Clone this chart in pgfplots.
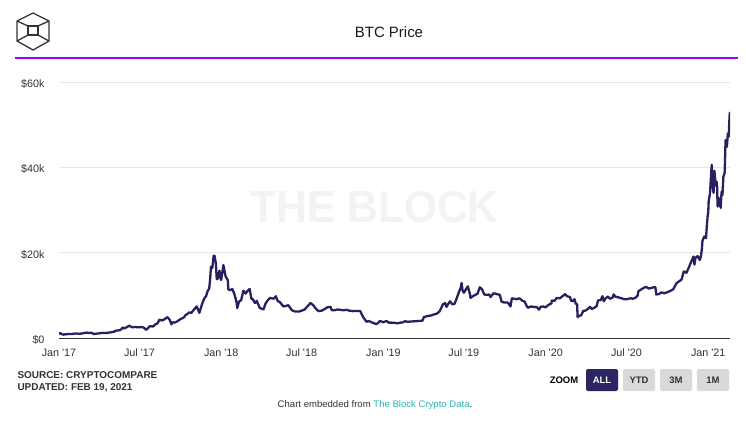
\documentclass[border=0pt]{standalone}
\usepackage{fontspec}
\setmainfont{Liberation Sans}
\usepackage{pgfplots}
\usepackage{pgfplotstable}
\pgfplotsset{compat=1.18}
\definecolor{btcline}{RGB}{40,33,96}
\definecolor{purp}{RGB}{160,0,255}
\definecolor{txt}{RGB}{51,51,51}
\definecolor{gridc}{RGB}{230,230,230}
\definecolor{wm}{RGB}{243,243,243}
\definecolor{teal2}{RGB}{42,180,184}
\definecolor{navy}{RGB}{43,37,98}
\definecolor{btn}{RGB}{217,217,217}

\pgfplotstableread{
day price
0 998
3 1130
5 990
7 900
10 780
12 830
17 900
21 920
28 920
31 970
38 1060
45 1000
52 1050
58 1190
62 1280
66 1180
73 1230
78 940
84 1020
90 1080
97 1200
104 1180
111 1250
118 1350
123 1460
128 1720
133 1780
137 1850
140 2050
143 2450
145 2250
147 2300
152 2480
158 2900
162 2650
165 2500
171 2600
177 2500
181 2500
186 2600
192 2350
196 1930
200 2260
204 2750
208 2730
212 2720
217 3200
222 3450
226 4300
231 4100
237 4350
240 4600
244 4900
249 4300
253 3230
256 3700
260 3600
266 3900
273 4400
281 4800
285 5400
290 5700
293 6000
298 5900
304 6700
310 7400
314 6400
316 5900
322 8000
327 9300
331 9800
334 10900
338 11600
340 13700
342 16700
345 16400
348 19300
350 19300
353 17500
355 13800
358 14000
361 15800
364 13900
365 13600
370 17100
375 14400
380 13500
381 11400
385 11200
390 11500
395 10200
400 8200
401 7000
405 8500
410 8900
415 11100
420 10400
424 11000
429 11500
433 9200
436 9100
441 8200
445 8700
452 7000
455 6900
460 6700
465 8100
470 8900
475 9400
483 9200
488 9800
492 8700
497 8400
505 7400
510 7500
516 7700
524 6500
532 6200
540 6200
546 6400
553 6700
558 7300
566 8200
572 7700
577 7000
584 6300
591 6400
598 6800
604 7200
611 7300
614 6500
620 6500
627 6700
633 6600
640 6500
647 6600
654 6400
661 6300
669 6350
678 6300
681 5600
685 4800
688 4400
692 3800
697 4000
703 3700
710 3400
714 3250
718 3500
722 4000
725 3900
729 3700
730 3700
737 4000
742 3600
748 3600
755 3550
762 3450
768 3600
773 3650
779 3950
784 3800
790 3850
797 3900
804 3950
811 4000
818 4050
821 4900
826 5050
832 5200
838 5300
843 5500
850 5700
856 6200
860 7000
864 7900
869 8200
872 7300
876 8000
880 8600
885 7900
890 8000
895 9300
900 10800
904 11800
906 12900
908 11200
911 10600
915 11300
920 12100
925 10200
926 9400
933 9900
942 10400
947 11900
952 11400
957 10200
962 10100
968 10200
971 9600
978 10500
985 10300
992 10100
996 8500
1003 8300
1010 8300
1016 7400
1019 9300
1025 9200
1030 9100
1036 9300
1042 8800
1048 8500
1052 7600
1055 7100
1062 7400
1068 7300
1076 7200
1080 6650
1084 7300
1090 7400
1094 7200
1095 7200
1102 7800
1108 8100
1109 8800
1115 8700
1120 9400
1127 9300
1133 9800
1139 10300
1143 9800
1150 9600
1152 8800
1156 8600
1160 9100
1163 8000
1166 7900
1167 4900
1170 5200
1175 5300
1180 6400
1184 6400
1190 6800
1195 7300
1199 6800
1205 7100
1210 7500
1213 8800
1219 8900
1223 9800
1226 8600
1230 9300
1235 9700
1240 9200
1246 9500
1248 10200
1252 9700
1260 9500
1266 9300
1272 9100
1278 9100
1286 9300
1292 9200
1298 9500
1302 9900
1304 11000
1309 11300
1315 11700
1321 12000
1324 11800
1327 11600
1332 11700
1338 11900
1342 11900
1344 10200
1350 10300
1356 10700
1362 10500
1368 10700
1375 11000
1382 11400
1390 12900
1393 13100
1401 13700
1406 15600
1412 15300
1418 16700
1422 17700
1425 18400
1428 19100
1430 17200
1432 18700
1437 19200
1442 18300
1445 19400
1447 21300
1448 22800
1452 23800
1456 23400
1458 26500
1460 29000
1461 29400
1462 32100
1465 33900
1468 39400
1469 40600
1471 35600
1473 34000
1475 39200
1477 36800
1478 35700
1480 36600
1481 35500
1482 30800
1484 32900
1486 32100
1489 30500
1491 34300
1493 33500
1495 37700
1498 38800
1500 46400
1503 44800
1505 47900
1507 47200
1509 52100
1510 53000
}\btcdata

\begin{document}
\begin{tikzpicture}[x=1bp,y=1bp]
\path[use as bounding box, fill=white] (0,0) rectangle (746,431);
\coordinate (axpos) at (59,93);
% logo
\draw[txt, line width=1.3bp, line join=round] (33,418)--(49,410)--(49,390)--(33,381)--(17,390)--(17,410)--cycle;
\draw[txt, line width=1.3bp] (28,396) rectangle (38,405);
\draw[txt, line width=1.3bp] (17,410)--(28,405) (49,410)--(38,405) (17,390)--(28,396) (49,390)--(38,396);
\node[font=\fontsize{15}{18}\selectfont, text=black!90] at (389,399) {BTC Price};
\draw[purp, line width=1.3bp] (15,373)--(738,373);
\node[font=\fontsize{45}{54}\selectfont\bfseries, text=wm, xscale=0.95] at (374.5,224) {THE BLOCK};
\begin{axis}[at={(axpos)}, anchor=south west, scale only axis,
  width=671bp, height=256bp,
  xmin=0, xmax=1510, ymin=0, ymax=60000,
  scaled y ticks=false, scaled x ticks=false,
  axis x line*=bottom, axis y line*=left,
  y axis line style={draw=none},
  x axis line style={draw=txt, line width=1bp, -},
  major tick length=0pt,
  ytick={0,20000,40000,60000},
  yticklabels={\$0,\$20k,\$40k,\$60k},
  ymajorgrids, grid style={gridc, line width=0.8bp},
  xtick={0,181,365,546,730,911,1095,1277,1461},
  xticklabels={Jan \textquotesingle17,Jul \textquotesingle17,Jan \textquotesingle18,Jul \textquotesingle18,Jan \textquotesingle19,Jul \textquotesingle19,Jan \textquotesingle20,Jul \textquotesingle20,Jan \textquotesingle21},
  ticklabel style={font=\fontsize{10.8}{12}\selectfont, text=txt},
  yticklabel style={xshift=-11bp, yshift=-2bp},
  xticklabel style={yshift=-7.5bp},
  /pgf/number format/assume math mode=true]
\addplot[btcline, line width=2.3bp, line join=round] table[x=day,y=price]{\btcdata};
\end{axis}
\node[anchor=west, font=\fontsize{10}{12}\selectfont\bfseries, text=txt] at (14,56) {SOURCE: CRYPTOCOMPARE};
\node[anchor=west, font=\fontsize{10}{12}\selectfont\bfseries, text=txt] at (14,43) {UPDATED: FEB 19, 2021};
\node[font=\fontsize{9.5}{11}\selectfont\bfseries, text=black] at (564,51) {ZOOM};
\fill[navy, rounded corners=2bp] (586,40) rectangle (618,62);
\node[font=\fontsize{9.5}{11}\selectfont\bfseries, text=white] at (602,51) {ALL};
\fill[btn, rounded corners=2bp] (623,40) rectangle (655,62);
\node[font=\fontsize{9.5}{11}\selectfont\bfseries, text=txt] at (639,51) {YTD};
\fill[btn, rounded corners=2bp] (660,40) rectangle (692,62);
\node[font=\fontsize{9.5}{11}\selectfont\bfseries, text=txt] at (676,51) {3M};
\fill[btn, rounded corners=2bp] (697,40) rectangle (729,62);
\node[font=\fontsize{9.5}{11}\selectfont\bfseries, text=txt] at (713,51) {1M};
\node[font=\fontsize{9.6}{11}\selectfont, text=txt] at (375,26) {Chart embedded from \textcolor{teal2}{The Block Crypto Data}.};
\end{tikzpicture}
\end{document}
